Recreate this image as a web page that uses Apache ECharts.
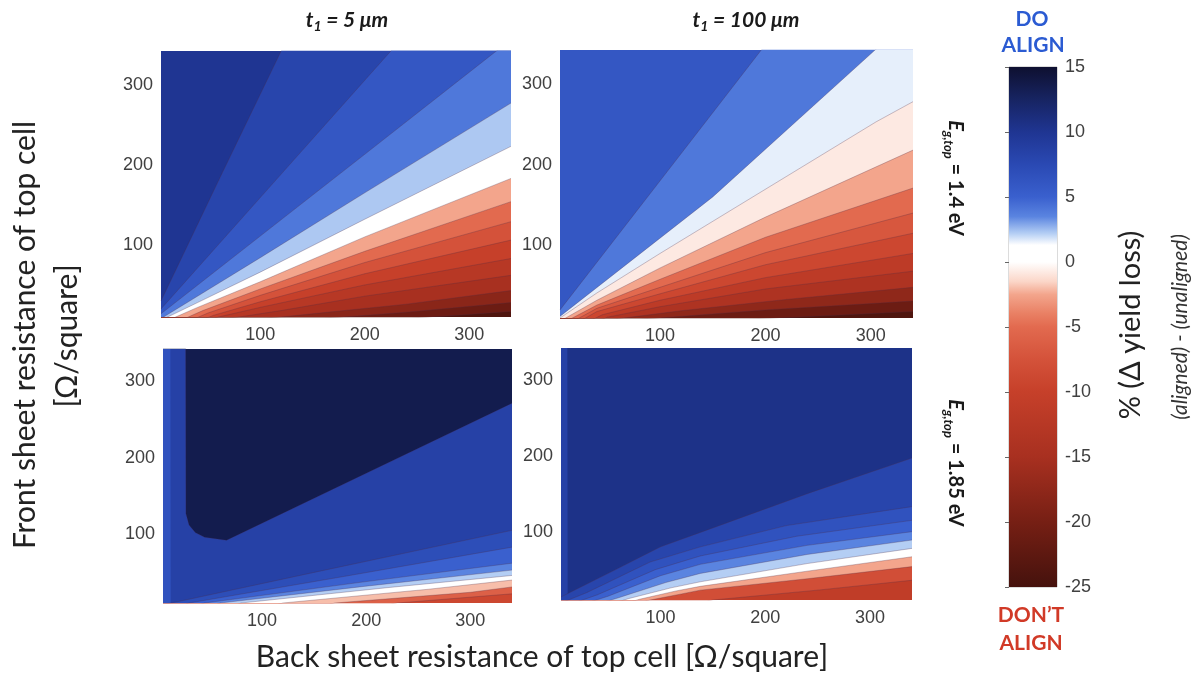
<!DOCTYPE html>
<html><head><meta charset="utf-8">
<script src="https://cdn.jsdelivr.net/npm/echarts@6/dist/echarts.min.js"></script>
<style>html,body{margin:0;padding:0;background:#fff}#c{width:1196px;height:675px}</style>
</head><body><div id="c"></div>
<script>
// ---------- axes ----------
const X_RANGE = [5, 340];
const Y_RANGE = [10, 342];
const X_TICKS = [100, 200, 300];
const Y_TICKS = [100, 200, 300];
const CBAR_RANGE = [-25, 15];
const CBAR_STEP = 5;

// ---------- colour scale (% delta yield loss -> colour) ----------
const CMAP_VALUES = [-25, -20, -15, -10, -7.5, -5, -4, -2.5, -1.5, 0, 1.3, 2.2, 3.5, 5, 7.5, 10, 12.5, 15];
const CMAP_COLORS = ['#45120d', '#761f14', '#a83020', '#c6402a', '#d4523a', '#e26a4f', '#e97f63', '#f3a58c', '#fbd6c8', '#ffffff', '#ffffff', '#b4cef4', '#5a84e0', '#3a60ce', '#2a49b3', '#1f3592', '#172462', '#0e1030'];

// ---------- panel: t1 = 5 um, Eg,top = 1.4 eV ----------
// each boundary is a contour line [back R, front R]; level = value of the band just below it
const TL_BG = 10;
const TL_LEVELS = [8, 6, 4, 2.3, 0.5, -2.5, -5, -7.5, -10, -12.5, -15, -18, -21, -24];
const TL_BOUNDS = [
  [[5,30],[60,180],[120,342],[340,950]],
  [[5,20],[100,159],[225,342],[340,510]],
  [[5,14],[100,111],[200,213],[326,342],[340,356]],
  [[5,8],[100,84],[200,165],[340,277]],
  [[5,6],[40,28],[100,66],[200,132],[340,223]],
  [[5,2],[40,22],[100,54],[200,110],[340,183]],
  [[5,-5],[45,18],[100,45],[200,92],[340,154]],
  [[5,-10],[50,15],[100,37],[200,78],[340,129]],
  [[5,-15],[55,12],[100,29],[200,64],[340,106]],
  [[5,-20],[60,10],[100,22],[200,50],[340,83]],
  [[5,-25],[70,8],[120,18],[200,36],[340,62]],
  [[5,-30],[90,6],[150,14],[240,26],[340,43]],
  [[5,-35],[130,5],[240,16],[340,28]],
  [[5,-40],[200,4],[340,17]]
];

// ---------- panel: t1 = 100 um, Eg,top = 1.4 eV ----------
const TR_BG = 6;
const TR_LEVELS = [4, 1.6, -0.8, -2.5, -5, -7, -9, -11.5, -14, -17.5, -21, -24];
const TR_BOUNDS = [
  [[5,20],[100,180],[196,342],[340,590]],
  [[5,12],[150,160],[304,342],[340,382]],
  [[5,10],[40,41],[100,90],[188,160],[305,253],[340,278]],
  [[5,6],[40,32],[100,72],[200,135],[340,218]],
  [[5,2],[40,26],[100,58],[200,110],[340,171]],
  [[5,-3],[40,22],[100,48],[200,91],[340,140]],
  [[5,-8],[40,18],[100,40],[200,76],[340,115]],
  [[5,-12],[45,14],[100,32],[200,60],[340,90]],
  [[5,-16],[50,11],[100,24],[200,46],[340,68]],
  [[5,-20],[60,9],[120,19],[220,33],[340,48]],
  [[5,-25],[80,8],[200,20],[340,31]],
  [[5,-30],[150,6],[340,18]]
];

// ---------- panel: t1 = 5 um, Eg,top = 1.85 eV ----------
const BL_BG = 8.5;
const BL_EDGE_LEVEL = 6.5;
const BL_EDGE = [[5,400],[12,400],[12.5,-100]];
const BL_CORE_LEVEL = 13.5;            // region above this line
const BL_CORE = [[5,1000],[26,1000],[27,127],[30,112],[36,102],[45,96],[66,92],[340,271]];
const BL_LEVELS = [7, 5, 3.5, 2.2, 0.3, -2, -6, -9];
const BL_BOUNDS = [
  [[5,8],[20,12],[150,50],[340,105]],
  [[5,-5],[30,10],[180,45],[340,83]],
  [[5,-10],[45,10],[200,38],[340,62]],
  [[5,-20],[60,10],[200,32],[340,53]],
  [[5,-30],[80,10],[220,30],[340,46]],
  [[5,-40],[120,10],[260,28],[340,40]],
  [[5,-50],[170,10],[300,24],[340,31]],
  [[5,-60],[230,10],[340,22]]
];

// ---------- panel: t1 = 100 um, Eg,top = 1.85 eV ----------
const BR_BG = 10.5;
const BR_EDGE_LEVEL = 8.5;
const BR_EDGE = [[5,400],[11,400],[11.5,-100]];
const BR_LEVELS = [8, 6.5, 5, 3.5, 2.2, 0.3, -2.5, -8, -11];
const BR_BOUNDS = [
  [[5,14],[60,52],[100,80],[140,100],[240,150],[340,197]],
  [[5,6],[30,20],[90,60],[138,80],[220,108],[340,133]],
  [[5,0],[40,17],[95,50],[138,68],[230,94],[340,115]],
  [[5,-5],[50,15],[100,42],[138,57],[240,82],[340,100]],
  [[5,-10],[60,13],[105,33],[138,45],[240,70],[340,89]],
  [[5,-15],[70,12],[110,26],[138,34],[240,58],[340,78]],
  [[5,-20],[80,11],[115,22],[138,28],[240,48],[340,67]],
  [[5,-25],[90,10],[120,18],[138,23],[240,38],[340,54]],
  [[5,-40],[150,10],[250,23],[340,36]]
];

// ---------- helpers ----------
function hexRgb(h){ return [parseInt(h.slice(1,3),16), parseInt(h.slice(3,5),16), parseInt(h.slice(5,7),16)]; }
function cmap(v){
  if (v <= CMAP_VALUES[0]) return CMAP_COLORS[0];
  const n = CMAP_VALUES.length;
  if (v >= CMAP_VALUES[n-1]) return CMAP_COLORS[n-1];
  for (let i = 0; i < n-1; i++) {
    if (v >= CMAP_VALUES[i] && v <= CMAP_VALUES[i+1]) {
      const t = (v - CMAP_VALUES[i]) / (CMAP_VALUES[i+1] - CMAP_VALUES[i]);
      const a = hexRgb(CMAP_COLORS[i]), b = hexRgb(CMAP_COLORS[i+1]);
      const c = a.map((x, k) => Math.round(x + (b[k]-x)*t));
      return 'rgb(' + c.join(',') + ')';
    }
  }
}
function band(gi, data, level, origin, lineW){
  return {
    type: 'line', xAxisIndex: gi, yAxisIndex: gi, data: data,
    symbol: 'none', showSymbol: false, silent: true, animation: false, clip: true,
    smooth: false,
    emphasis: {disabled: true},
    lineStyle: {width: lineW === undefined ? 0.7 : lineW, color: 'rgba(80,45,70,0.42)'},
    areaStyle: {color: cmap(level), opacity: 1, origin: origin || 'start'}
  };
}

const GRIDS = [
  {left: 161, top: 51, width: 350, height: 266, bg: TL_BG},
  {left: 560, top: 50, width: 353, height: 268, bg: TR_BG},
  {left: 163, top: 349, width: 349, height: 254, bg: BL_BG},
  {left: 561, top: 348, width: 351, height: 252, bg: BR_BG}
];

const grid = [], xAxis = [], yAxis = [], series = [];
const tickFont = {fontSize: 18, color: '#404040', fontFamily: 'Liberation Sans, Arial, sans-serif'};
GRIDS.forEach((g, i) => {
  grid.push({left: g.left, top: g.top, width: g.width, height: g.height, show: true,
    backgroundColor: cmap(g.bg), borderWidth: 0, containLabel: false});
  xAxis.push({gridIndex: i, type: 'value', min: X_RANGE[0], max: X_RANGE[1],
    axisLine: {show: false}, axisTick: {show: false}, splitLine: {show: false},
    axisLabel: Object.assign({customValues: X_TICKS, margin: 9}, tickFont)});
  yAxis.push({gridIndex: i, type: 'value', min: Y_RANGE[0], max: Y_RANGE[1],
    axisLine: {show: false}, axisTick: {show: false}, splitLine: {show: false},
    axisLabel: Object.assign({customValues: Y_TICKS, margin: 8}, tickFont)});
});

TL_BOUNDS.forEach((b, k) => series.push(band(0, b, TL_LEVELS[k])));
TR_BOUNDS.forEach((b, k) => series.push(band(1, b, TR_LEVELS[k])));
series.push(band(2, BL_EDGE, BL_EDGE_LEVEL, 'start', 0));
series.push(band(2, BL_CORE, BL_CORE_LEVEL, 'end', 0.5));
BL_BOUNDS.forEach((b, k) => series.push(band(2, b, BL_LEVELS[k])));
series.push(band(3, BR_EDGE, BR_EDGE_LEVEL, 'start', 0));
BR_BOUNDS.forEach((b, k) => series.push(band(3, b, BR_LEVELS[k])));

// ---------- colour bar ----------
grid.push({left: 1009, top: 67, width: 48, height: 520, show: true, borderColor: '#b8b8b8', borderWidth: 1, backgroundColor: 'transparent'});
xAxis.push({gridIndex: 4, type: 'value', min: 0, max: 1, show: false});
yAxis.push({gridIndex: 4, type: 'value', min: CBAR_RANGE[0], max: CBAR_RANGE[1], interval: CBAR_STEP, position: 'right',
  axisLine: {show: false}, splitLine: {show: false},
  axisTick: {show: true, inside: true, length: 4, lineStyle: {color: '#666'}},
  axisLabel: Object.assign({margin: 8}, tickFont)});
const span = CBAR_RANGE[1] - CBAR_RANGE[0];
const stops = CMAP_VALUES.map((v, i) => ({offset: (CBAR_RANGE[1] - v) / span, color: CMAP_COLORS[i]})).reverse();
series.push({
  type: 'custom', xAxisIndex: 4, yAxisIndex: 4, silent: true, animation: false, z: 1,
  data: [[0, CBAR_RANGE[1], 1, CBAR_RANGE[0]]],
  renderItem: function(params, api){
    const p1 = api.coord([api.value(0), api.value(1)]);
    const p2 = api.coord([api.value(2), api.value(3)]);
    return {type: 'rect', shape: {x: p1[0], y: p1[1], width: p2[0]-p1[0], height: p2[1]-p1[1]},
      style: {fill: new echarts.graphic.LinearGradient(0, 0, 0, 1, stops)}};
  }
});

// ---------- texts ----------
const F = 'Lato, "Open Sans", sans-serif';
function richTitle(x, y, rot, text, rich){
  return {type: 'text', x: x, y: y, rotation: rot, z: 10, silent: true,
    style: {text: text, rich: rich, align: 'center', verticalAlign: 'middle', textAlign: 'center', textVerticalAlign: 'middle'}};
}
function plain(x, y, rot, text, font, fill){
  return {type: 'text', x: x, y: y, rotation: rot, z: 10, silent: true,
    style: {text: text, font: font, fill: fill, align: 'center', verticalAlign: 'middle', textAlign: 'center', textVerticalAlign: 'middle'}};
}
const tRich = {
  i: {fontFamily: F, fontSize: 21, fontWeight: 'bold', fontStyle: 'italic', fill: '#1a1a1a', lineHeight: 26},
  s: {fontFamily: F, fontSize: 14, fontWeight: 'bold', fontStyle: 'italic', fill: '#1a1a1a', lineHeight: 14, verticalAlign: 'bottom'}
};
const eRich = {
  i: {fontFamily: F, fontSize: 20, fontWeight: 'bold', fontStyle: 'italic', fill: '#1a1a1a', lineHeight: 26},
  s: {fontFamily: F, fontSize: 13, fontWeight: 'bold', fontStyle: 'italic', fill: '#1a1a1a', lineHeight: 13, verticalAlign: 'bottom'},
  b: {fontFamily: F, fontSize: 20, fontWeight: 'bold', fill: '#1a1a1a', lineHeight: 26}
};
const graphics = [
  richTitle(347, 20, 0, '{i|t}{s|1}{i| = 5 μm}', tRich),
  richTitle(746, 20, 0, '{i|t}{s|1}{i| = 100 μm}', tRich),
  richTitle(955, 178, -Math.PI/2, '{i|E}{s|g,top}{b| = 1.4 eV}', eRich),
  richTitle(955, 463, -Math.PI/2, '{i|E}{s|g,top}{b| = 1.85 eV}', eRich),
  plain(1032, 19, 0, 'DO', 'bold 21px ' + F, '#2b5bd2'),
  plain(1033, 45, 0, 'ALIGN', 'bold 21px ' + F, '#2b5bd2'),
  plain(1031, 615, 0, 'DON’T', 'bold 21px ' + F, '#d13a27'),
  plain(1031, 643, 0, 'ALIGN', 'bold 21px ' + F, '#d13a27'),
  plain(1131, 325, Math.PI/2, '% (Δ yield loss)', '29px ' + F, '#222'),
  plain(1180, 327, Math.PI/2, '(aligned) - (unaligned)', 'italic 21px ' + F, '#333'),
  plain(25, 335, Math.PI/2, 'Front sheet resistance of top cell', '30px ' + F, '#222'),
  plain(67, 336, Math.PI/2, '[Ω/square]', '30px ' + F, '#222'),
  plain(542, 657, 0, 'Back sheet resistance of top cell [Ω/square]', '30px ' + F, '#222')
];

const chart = echarts.init(document.getElementById('c'), null, {renderer: 'canvas'});
chart.setOption({
  backgroundColor: '#ffffff',
  animation: false,
  grid: grid, xAxis: xAxis, yAxis: yAxis, series: series,
  graphic: {elements: graphics}
});
</script>
</body></html>
